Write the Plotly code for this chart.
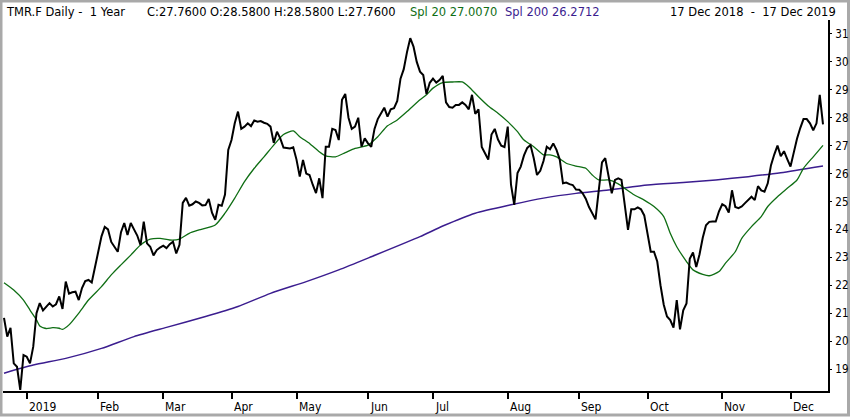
import pandas as pd
import plotly.graph_objects as go

# ---- data ----
start_date = "2018-12-17"
end_date = "2019-12-17"
holidays = ["2018-12-24", "2018-12-25", "2018-12-26", "2018-12-31",
            "2019-01-01", "2019-04-19", "2019-04-22", "2019-05-01"]

close = [
    20.83, 20.16, 20.47, 19.2, 19.08, 18.25, 19.5, 19.44, 19.2, 19.8,
    21.0, 21.36, 21.1, 21.25, 21.36, 21.24, 21.32, 21.6, 21.15, 22.13,
    21.7, 21.75, 21.77, 21.47, 21.9, 22.15, 22.19, 22.1, 22.66, 23.3,
    23.75, 24.09, 24.0, 23.55, 23.36, 23.2, 23.9, 24.23, 23.8, 24.23,
    24.0, 23.78, 23.44, 24.28, 23.5, 23.38, 23.07, 23.26, 23.35, 23.42,
    23.33, 23.47, 23.56, 23.14, 23.45, 24.95, 25.13, 24.85, 24.9, 25.0,
    24.95, 24.86, 24.87, 25.09, 24.6, 24.34, 24.88, 24.85, 25.25, 26.85,
    27.2, 27.8, 28.22, 27.6, 27.68, 27.8, 27.7, 27.9, 27.86, 27.88,
    27.82, 27.78, 27.68, 27.1, 27.5, 27.26, 26.93, 26.92, 26.9, 26.94,
    26.5, 25.89, 26.49, 26.0, 25.95, 25.6, 25.3, 25.83, 25.12, 26.96,
    26.96, 27.6, 27.56, 27.2, 28.64, 28.85, 28.0, 27.6, 27.68, 28.0,
    26.96, 27.26, 27.08, 26.96, 27.6, 27.95, 28.16, 28.36, 28.04, 28.3,
    28.34, 28.6, 29.4, 29.74, 30.35, 30.85, 30.55, 30.0, 29.65, 29.53,
    28.85, 29.25, 29.4, 29.26, 29.35, 29.5, 28.55, 28.38, 28.36, 28.46,
    28.46, 28.55, 28.46, 28.3, 28.82, 28.14, 28.3, 26.95, 26.73, 26.5,
    27.4, 27.6, 27.22, 27.0, 26.95, 27.68, 25.6, 24.88, 26.02, 26.25,
    26.65, 26.92, 27.02, 26.55, 25.95, 26.1, 26.45, 26.96, 26.87, 27.08,
    26.85, 26.5, 25.65, 25.68, 25.62, 25.59, 25.43, 25.42, 25.3, 25.1,
    24.8, 24.6, 24.36, 25.4, 26.4, 26.55, 25.95, 25.29, 25.77, 25.83,
    25.77, 24.9, 23.98, 24.72, 24.72, 24.79, 24.72, 24.5, 23.9, 23.2,
    23.2, 22.85, 22.0, 21.3, 20.88, 20.75, 20.48, 21.47, 20.42, 21.1,
    21.35, 22.95, 23.17, 22.65, 23.1, 23.7, 24.15, 24.27, 24.28, 24.28,
    24.65, 24.9, 24.83, 24.6, 25.4, 24.8, 24.76, 24.82, 24.94, 25.05,
    25.17, 25.05, 25.55, 25.4, 25.35, 25.65, 26.3, 26.68, 27.0, 26.62,
    26.8, 26.52, 26.25, 26.75, 27.25, 27.63, 27.95, 27.95, 27.8, 27.55,
    27.8, 28.82, 27.76,
]

# Spl 20 (green), sampled at session numbers
spl20_session = [0, 3, 6, 8, 10, 11, 13, 15, 17, 18, 20, 23, 26, 30, 33, 36, 39, 42, 45, 48,
                 51, 54, 57, 60, 65, 68, 71, 74, 77, 80, 83, 86, 89, 91, 94, 97, 99, 102, 105,
                 108, 112, 115, 118, 121, 124, 128, 130, 132, 135, 138, 141, 143, 146, 149,
                 152, 155, 158, 160, 163, 166, 168, 170, 173, 176, 179, 181, 183, 186, 189,
                 191, 194, 197, 200, 203, 205, 207, 210, 212, 215, 217, 220, 222, 225, 227,
                 230, 233, 235, 238, 241, 244, 246, 249, 252]
spl20_value = [22.09, 21.83, 21.47, 21.11, 20.76, 20.54, 20.45, 20.48, 20.46, 20.42, 20.58,
               21.0, 21.47, 21.95, 22.37, 22.73, 23.08, 23.44, 23.65, 23.68, 23.62, 23.65,
               23.86, 23.98, 24.16, 24.58, 25.12, 25.71, 26.19, 26.6, 27.02, 27.4, 27.53,
               27.32, 27.08, 26.78, 26.63, 26.6, 26.75, 26.9, 27.02, 27.32, 27.71, 27.92,
               28.22, 28.64, 28.82, 29.06, 29.26, 29.28, 29.28, 29.11, 28.75, 28.42, 28.16,
               27.86, 27.5, 27.2, 26.96, 26.67, 26.67, 26.6, 26.37, 26.27, 26.19, 25.95,
               25.77, 25.77, 25.63, 25.47, 25.23, 25.05, 24.82, 24.46, 23.86, 23.38, 22.85,
               22.55, 22.39, 22.34, 22.49, 22.79, 23.2, 23.68, 24.1, 24.46, 24.82, 25.17,
               25.47, 25.77, 26.19, 26.6, 27.007]

# Spl 200 (purple), sampled at session numbers
spl200_session = [0, 9, 19, 30, 40, 50, 62, 72, 82, 93, 103, 113, 128, 135, 145, 156, 166,
                  176, 186, 198, 209, 219, 229, 239, 252]
spl200_value = [18.85, 19.14, 19.38, 19.74, 20.16, 20.49, 20.88, 21.24, 21.71, 22.13, 22.55,
                23.02, 23.74, 24.12, 24.58, 24.88, 25.12, 25.29, 25.41, 25.59, 25.68, 25.77,
                25.89, 26.03, 26.2712]

month_labels = ["2019", "Feb", "Mar", "Apr", "May", "Jun", "Jul", "Aug", "Sep", "Oct", "Nov", "Dec"]
y_ticks = list(range(19, 32))

header_main = "TMR.F Daily -\u00a0\u00a01 Year"
header_ohlc = "C:27.7600 O:28.5800 H:28.5800 L:27.7600"
header_spl20 = "Spl 20 27.0070"
header_spl200 = "Spl 200 26.2712"
header_range = "17 Dec 2018\u00a0\u00a0-\u00a0\u00a017 Dec 2019"

# ---- trading calendar ----
sessions = pd.bdate_range(start_date, end_date)
sessions = sessions[~sessions.isin(pd.to_datetime(holidays))]
session_no = list(range(len(close)))
month_first = []
seen = set()
for k, d in enumerate(sessions[:len(close)]):
    key = (d.year, d.month)
    if d.year == 2019 and key not in seen:
        seen.add(key)
        month_first.append(k)

# ---- geometry helpers (pixel -> paper) ----
W, H = 850, 417
ML, MR, MT, MB = 3, 22, 20, 26
PW, PH = W - ML - MR, H - MT - MB


def px(xp):
    return (xp - ML) / PW


def py(yp):
    return (H - MB - yp) / PH


GREEN = "#0f6e14"
PURPLE = "#3b1d8f"
FONT_HDR = "DejaVu Sans, Verdana, sans-serif"
FONT_AX = "DejaVu Sans Condensed, Liberation Sans Narrow, DejaVu Sans, sans-serif"

fig = go.Figure()
fig.add_trace(go.Scatter(x=spl200_session, y=spl200_value, mode="lines",
                         line=dict(color=PURPLE, width=1.5, shape="spline", smoothing=0.6),
                         hoverinfo="skip", showlegend=False))
fig.add_trace(go.Scatter(x=spl20_session, y=spl20_value, mode="lines",
                         line=dict(color=GREEN, width=1.3, shape="spline", smoothing=0.6),
                         hoverinfo="skip", showlegend=False))
fig.add_trace(go.Scatter(x=session_no, y=close, mode="lines",
                         line=dict(color="black", width=2),
                         hoverinfo="skip", showlegend=False))

px_per_session = 3.25
x0 = -1 / px_per_session
x1 = x0 + PW / px_per_session
fig.update_xaxes(range=[x0, x1], showgrid=False, zeroline=False,
                 showline=True, linecolor="black", linewidth=2,
                 ticks="outside", ticklen=6, tickwidth=2, tickcolor="black",
                 tickvals=month_first, showticklabels=False)
y_top = 31.5
y_bot = y_top - PH / 27.92
fig.update_yaxes(range=[y_bot, y_top], side="right", showgrid=False, zeroline=False,
                 showline=True, linecolor="black", linewidth=2,
                 ticks="outside", ticklen=2, tickwidth=1, tickcolor="black",
                 ticklabelstandoff=1,
                 tickvals=y_ticks, ticktext=[str(v) for v in y_ticks],
                 tickfont=dict(family=FONT_AX, size=11.5, color="black"))

annotations = []
for k, lab in zip(month_first, month_labels):
    annotations.append(dict(x=k, xref="x", y=py(407), yref="paper", text=lab,
                            showarrow=False, xanchor="left", yanchor="middle", xshift=0,
                            font=dict(family=FONT_AX, size=12, color="black")))
hdr_y = py(12)
for xp, txt, col, anchor in [(4, header_main, "black", "left"),
                              (145, header_ohlc, "black", "left"),
                              (408, header_spl20, GREEN, "left"),
                              (503, header_spl200, PURPLE, "left"),
                              (838, header_range, "black", "right")]:
    annotations.append(dict(x=px(xp), xref="paper", y=hdr_y, yref="paper", text=txt,
                            showarrow=False, xanchor=anchor, yanchor="middle",
                            font=dict(family=FONT_HDR, size=11.5, color=col)))

shapes = [dict(type="rect", xref="paper", yref="paper", layer="below",
               x0=px(1), x1=px(848.5), y0=py(415), y1=py(1),
               line=dict(color="#a9a9a9", width=3), fillcolor="rgba(0,0,0,0)")]

fig.update_layout(width=W, height=H, margin=dict(l=ML, r=MR, t=MT, b=MB),
                  paper_bgcolor="white", plot_bgcolor="rgba(0,0,0,0)",
                  annotations=annotations, shapes=shapes, showlegend=False)

fig.write_html("out.html", config={"displayModeBar": False},
               post_script="document.body.style.margin='0';document.body.style.overflow='hidden';")
